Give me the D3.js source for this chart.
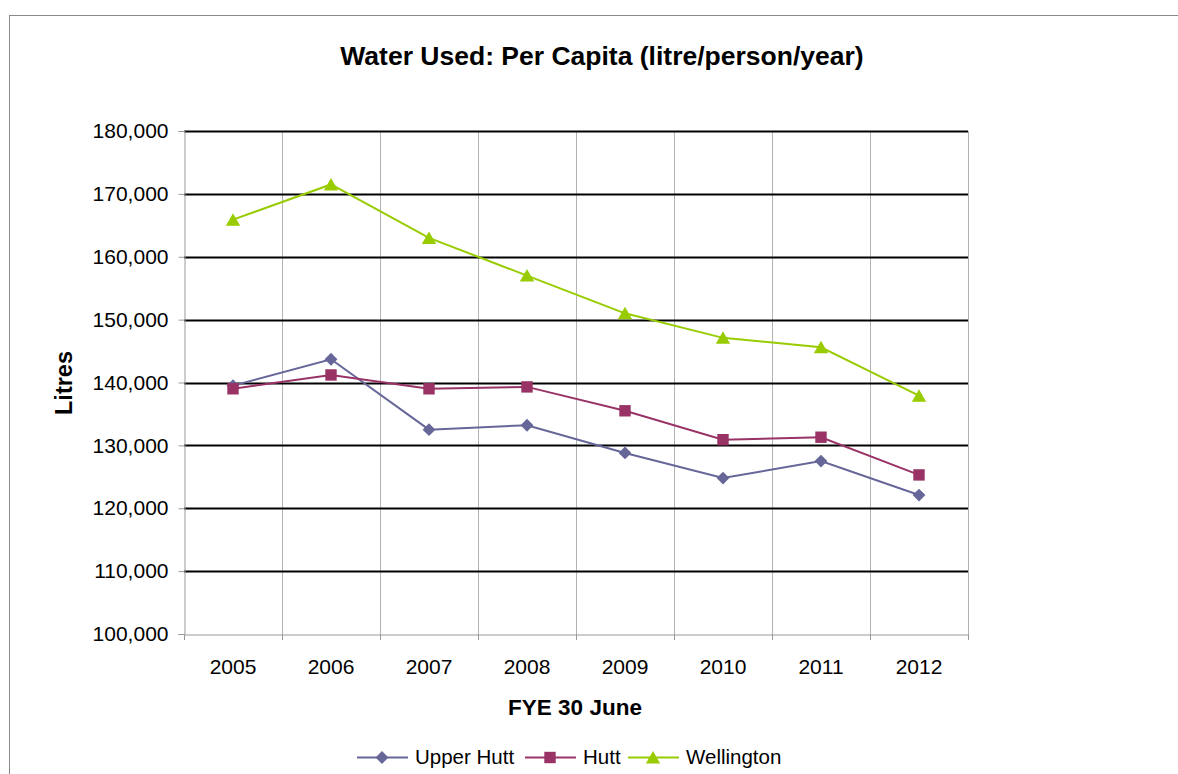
<!DOCTYPE html>
<html><head><meta charset="utf-8">
<script src="https://cdn.jsdelivr.net/npm/d3@7/dist/d3.min.js"></script>
<style>body{margin:0;background:#fff;font-family:"Liberation Sans",Arial,sans-serif;}</style>
</head><body>
<svg id="c" width="1178" height="774"></svg>
<script>
const years = ["2005","2006","2007","2008","2009","2010","2011","2012"];
const upperHutt = [139500, 143700, 132500, 133200, 128800, 124800, 127500, 122100];
const hutt = [139000, 141200, 139000, 139300, 135500, 130900, 131300, 125300];
const wellington = [165900, 171500, 163000, 157000, 151000, 147100, 145600, 137900];
const yTicks = [100000,110000,120000,130000,140000,150000,160000,170000,180000];
const seriesNames = ["Upper Hutt","Hutt","Wellington"];

const FF = "Liberation Sans, Arial, sans-serif";
const svg = d3.select("#c");
const W=1178,H=774;
svg.append("rect").attr("x",9.5).attr("y",15.5).attr("width",W+10).attr("height",H+10)
  .attr("fill","#fff").attr("stroke","#888").attr("stroke-width",1);

const L=184,R=968,T=131,B=634;
const x = d3.scaleBand().domain(years).range([L,R]);
const y = d3.scaleLinear().domain([100000,180000]).range([B,T]);

// vertical gridlines
const g = svg.append("g");
g.selectAll("line.v").data(years.slice(1)).join("line")
  .attr("x1",d=>x(d)+0.5).attr("x2",d=>x(d)+0.5).attr("y1",T).attr("y2",B)
  .attr("stroke","#b3b3b3").attr("stroke-width",1);
g.append("line").attr("x1",R+0.5).attr("x2",R+0.5).attr("y1",T).attr("y2",B).attr("stroke","#b3b3b3");
// horizontal gridlines
g.selectAll("line.h").data(yTicks.slice(1)).join("line")
  .attr("x1",L).attr("x2",R).attr("y1",d=>Math.round(y(d))+0.5).attr("y2",d=>Math.round(y(d))+0.5)
  .attr("stroke","#000").attr("stroke-width",2);

// y axis
const ya = svg.append("g").attr("transform",`translate(${L+0.5},0)`)
  .call(d3.axisLeft(y).tickValues(yTicks).tickSize(6).tickPadding(10).tickFormat(d3.format(",")));
ya.select(".domain").attr("stroke","#999");
ya.selectAll(".tick line").attr("stroke","#999");
ya.selectAll("text").attr("font-size",21).attr("fill","#000").attr("font-family",FF);

// x axis
const xa = svg.append("g").attr("transform",`translate(0,${B+0.5})`)
  .call(d3.axisBottom(x).tickSize(0).tickPadding(22));
xa.select(".domain").attr("stroke","#999");
xa.selectAll("text").attr("font-size",21).attr("fill","#000").attr("font-family",FF)
  .attr("dy",null).attr("y",39);
svg.append("g").selectAll("line").data(years.concat(["end"])).join("line")
  .attr("x1",(d,i)=>(i<years.length?x(d):R)+0.5).attr("x2",(d,i)=>(i<years.length?x(d):R)+0.5)
  .attr("y1",B).attr("y2",B+6).attr("stroke","#999");

// titles
svg.append("text").attr("x",602).attr("y",65).attr("text-anchor","middle").attr("font-family",FF)
  .attr("font-size",26.5).attr("font-weight","bold").text("Water Used: Per Capita (litre/person/year)");
svg.append("text").attr("x",575).attr("y",715).attr("text-anchor","middle").attr("font-family",FF)
  .attr("font-size",22.5).attr("font-weight","bold").text("FYE 30 June");
svg.append("text").attr("transform","translate(72,383) rotate(-90)").attr("text-anchor","middle").attr("font-family",FF)
  .attr("font-size",23.5).attr("font-weight","bold").text("Litres");

const colors = ["#666699","#993366","#99cc00"];
const data = [upperHutt,hutt,wellington];
const cx = d=>x(d)+x.bandwidth()/2;
const line = d3.line().x((d,i)=>cx(years[i])).y(d=>y(d));

function marker(sel, si){
  if(si===0){
    sel.append("path").attr("d",d3.symbol().type(d3.symbolSquare).size(82)).attr("transform","rotate(45)").attr("fill",colors[0]);
  } else if(si===1){
    sel.append("path").attr("d",d3.symbol().type(d3.symbolSquare).size(130)).attr("fill",colors[1]);
  } else {
    sel.append("path").attr("d","M0,-6.5L7.2,6L-7.2,6Z").attr("fill",colors[2]);
  }
}

data.forEach((vals,si)=>{
  svg.append("path").datum(vals).attr("d",line).attr("fill","none")
    .attr("stroke",colors[si]).attr("stroke-width",2);
  svg.append("g").selectAll("g").data(vals).join("g")
    .attr("transform",(d,i)=>`translate(${cx(years[i])},${y(d)})`)
    .each(function(){ marker(d3.select(this), si); });
});

// legend
const legX = [357,525,628];
seriesNames.forEach((n,i)=>{
  const lg = svg.append("g").attr("transform",`translate(${legX[i]},757.5)`);
  lg.append("line").attr("x1",0).attr("x2",51).attr("stroke",colors[i]).attr("stroke-width",2);
  const m = lg.append("g").attr("transform","translate(25,0)");
  marker(m,i);
  lg.append("text").attr("x",58).attr("y",6).attr("font-size",20.5).attr("font-family",FF).text(n);
});
</script>
</body></html>
